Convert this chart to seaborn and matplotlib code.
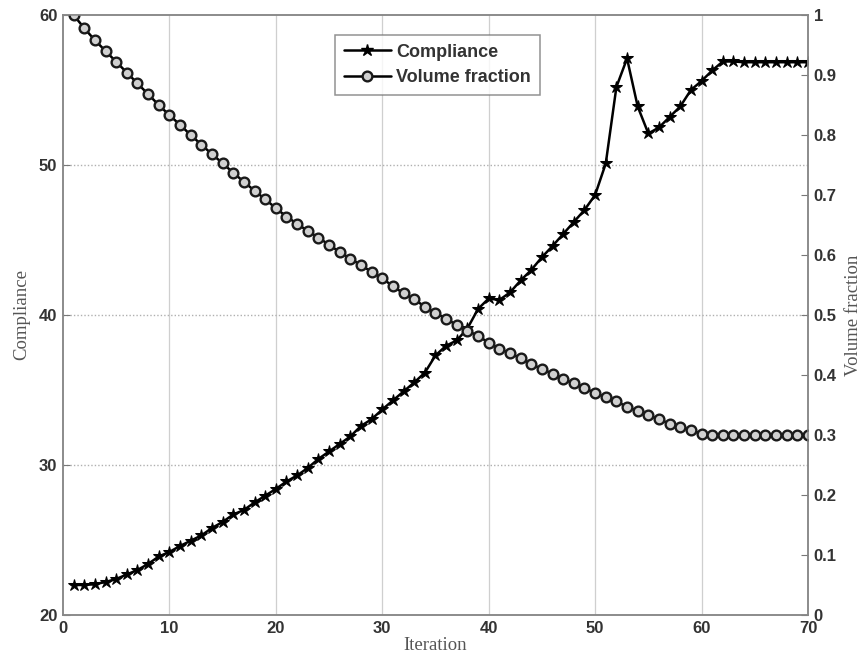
import numpy as np
import pandas as pd
import seaborn as sns
import matplotlib.pyplot as plt
from matplotlib.lines import Line2D

iterations = list(range(1, 71))

compliance = [
    22.0, 22.0, 22.05, 22.2, 22.4, 22.7, 23.0, 23.4, 23.9, 24.2,
    24.6, 24.95, 25.3, 25.8, 26.2, 26.7, 27.0, 27.5, 27.95, 28.4,
    28.9, 29.3, 29.8, 30.4, 30.9, 31.4, 31.9, 32.6, 33.05, 33.7,
    34.3, 34.9, 35.5, 36.15, 37.3, 37.95, 38.3, 39.1, 40.4, 41.1,
    41.0, 41.5, 42.3, 43.0, 43.85, 44.6, 45.4, 46.2, 47.0, 48.0,
    50.1, 55.2, 57.1, 53.9, 52.1, 52.5, 53.2, 53.9, 55.0, 55.6,
    56.3, 56.9, 56.9, 56.85, 56.85, 56.85, 56.85, 56.85, 56.85, 56.85,
]

volume_fraction = [
    1.0, 0.978, 0.958, 0.94, 0.922, 0.904, 0.886, 0.868, 0.85, 0.833,
    0.817, 0.8, 0.784, 0.768, 0.753, 0.737, 0.722, 0.707, 0.693, 0.678,
    0.664, 0.652, 0.64, 0.629, 0.617, 0.605, 0.594, 0.583, 0.572, 0.561,
    0.548, 0.536, 0.526, 0.514, 0.503, 0.494, 0.483, 0.474, 0.465, 0.454,
    0.444, 0.436, 0.428, 0.418, 0.41, 0.402, 0.393, 0.386, 0.378, 0.37,
    0.363, 0.356, 0.347, 0.34, 0.333, 0.326, 0.319, 0.314, 0.308, 0.302,
    0.3, 0.3, 0.3, 0.3, 0.3, 0.3, 0.3, 0.3, 0.3, 0.3,
]

left_ticks = [20, 30, 40, 50, 60]
right_ticks = [0, 0.1, 0.2, 0.3, 0.4, 0.5, 0.6, 0.7, 0.8, 0.9, 1]
x_ticks = [0, 10, 20, 30, 40, 50, 60, 70]

df = pd.DataFrame({'Iteration': iterations,
                   'Compliance': compliance,
                   'Volume fraction': volume_fraction})

sns.set_style('white')
plt.rcParams['font.family'] = ['Liberation Sans', 'DejaVu Sans']

fig = plt.figure(figsize=(8.66, 6.66), dpi=100)
ax = fig.add_axes([0.0727, 0.0766, 0.8603, 0.9009])
ax2 = ax.twinx()

sns.lineplot(data=df, x='Iteration', y='Compliance', ax=ax,
             color='black', linewidth=1.8, marker='*', markersize=9,
             markeredgecolor='black', markerfacecolor='black')
sns.lineplot(data=df, x='Iteration', y='Volume fraction', ax=ax2,
             color='black', linewidth=1.8, marker='o', markersize=7,
             markeredgecolor='#1a1a1a', markerfacecolor='#d0d0d0',
             markeredgewidth=1.7)

ax.set_xlim(0, 70)
ax.set_ylim(20, 60)
ax2.set_ylim(0, 1)
ax.set_xticks(x_ticks)
ax.set_yticks(left_ticks)
ax2.set_yticks(right_ticks)
ax2.set_yticklabels([f'{t:g}' for t in right_ticks])

ax.grid(False)
ax2.grid(False)
for xt in x_ticks[1:-1]:
    ax.axvline(xt, color='#cfcfcf', linewidth=0.9, zorder=0)
for yt in left_ticks[1:-1]:
    ax.axhline(yt, color='#b0b0b0', linewidth=1.0, linestyle=(0, (1, 1.5)), zorder=0)

label_font = dict(family=['Liberation Serif', 'DejaVu Serif'], size=13.5, color='#555555')
ax.set_xlabel('Iteration', labelpad=1, **label_font)
ax.set_ylabel('Compliance', labelpad=6, **label_font)
ax2.set_ylabel('Volume fraction', labelpad=6, **label_font)

for a in (ax, ax2):
    a.tick_params(direction='in', length=5, width=0.8, color='#777777',
                  labelsize=12, labelcolor='#333333', pad=4)
    for lab in a.get_xticklabels() + a.get_yticklabels():
        lab.set_fontweight('bold')
    for sp in a.spines.values():
        sp.set_color('#888888')
        sp.set_linewidth(1.1)

handles = [
    Line2D([], [], color='black', linewidth=1.8, marker='*', markersize=9),
    Line2D([], [], color='black', linewidth=1.8, marker='o', markersize=7,
           markerfacecolor='#d0d0d0', markeredgecolor='#1a1a1a', markeredgewidth=1.7),
]
if ax.get_legend():
    ax.get_legend().remove()
if ax2.get_legend():
    ax2.get_legend().remove()
leg = ax2.legend(handles, ['Compliance', 'Volume fraction'],
                 loc='upper left', bbox_to_anchor=(0.365, 0.967),
                 frameon=True, fancybox=False, edgecolor='#777777',
                 prop={'weight': 'bold', 'size': 13}, handlelength=2.6,
                 borderpad=0.5, labelspacing=0.45, handletextpad=0.3,
                 borderaxespad=0)
leg.get_frame().set_linewidth(1.1)
for t in leg.get_texts():
    t.set_color('#333333')

fig.savefig('out.png', dpi=100)
